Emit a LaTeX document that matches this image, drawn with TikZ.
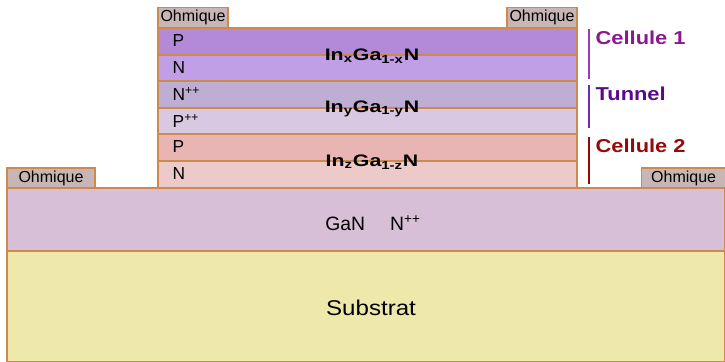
\documentclass[tikz,border=0pt]{standalone}
\usepackage{fontspec}
\setmainfont{Liberation Sans}
\usepackage{tikz}
\definecolor{contour}{HTML}{CD8A4C}
\definecolor{ohm}{HTML}{C8B6B6}
\definecolor{coucheA}{HTML}{B38AD8}
\definecolor{coucheB}{HTML}{C09FE6}
\definecolor{coucheC}{HTML}{BEAED3}
\definecolor{coucheD}{HTML}{D8C8E1}
\definecolor{coucheE}{HTML}{E8B5B4}
\definecolor{coucheF}{HTML}{ECCAC9}
\definecolor{gan}{HTML}{D8BFD8}
\definecolor{substrat}{HTML}{EEE8AA}
\definecolor{celluleun}{HTML}{8E168F}
\definecolor{barreun}{HTML}{9A3CB8}
\definecolor{tunnel}{HTML}{5A0A8C}
\definecolor{barretunnel}{HTML}{6A2CB4}
\definecolor{celluledeux}{HTML}{980808}
\newcommand{\etire}[2]{\scalebox{#1}[1]{#2}}
\newcommand{\alli}[1]{\etire{1.28}{In\textsubscript{#1}Ga\textsubscript{1-#1}N}}

\begin{document}
\begin{tikzpicture}[x=0.75pt,y=-0.75pt,
  couche/.style={draw=contour,line width=1pt},
  ohmbox/.style={draw=contour,fill=ohm,line width=1pt,inner sep=0pt,minimum height=15pt,font=\fontsize{12}{13}\selectfont},
  dopage/.style={anchor=west,font=\fontsize{13}{14}\selectfont},
  alliage/.style={font=\bfseries\fontsize{12.5}{14}\selectfont},
  cellule/.style={anchor=west,font=\bfseries\fontsize{14}{15}\selectfont}]
\useasboundingbox (0,0) rectangle (725,361);

% substrat et GaN
\filldraw[couche,fill=substrat] (7,251) rectangle (725,362);
\filldraw[couche,fill=gan] (7,188) rectangle (725,251);
\node (substrat) at (371,308) {\fontsize{16}{17}\selectfont\etire{1.13}{Substrat}};
\node (gan) at (373,223) {\fontsize{14.5}{16}\selectfont GaN\hspace{1.3em}N\textsuperscript{++}};

% empilement
\filldraw[couche,fill=coucheA] (158,28) rectangle (577,55);
\filldraw[couche,fill=coucheB] (158,55) rectangle (577,81);
\filldraw[couche,fill=coucheC] (158,81) rectangle (577,108);
\filldraw[couche,fill=coucheD] (158,108) rectangle (577,134);
\filldraw[couche,fill=coucheE] (158,134) rectangle (577,161);
\filldraw[couche,fill=coucheF] (158,161) rectangle (577,188);

\node[dopage] (p1) at (168,41) {P};
\node[dopage] (n1) at (168,68) {N};
\node[dopage] (npp) at (168,94) {N\textsuperscript{++}};
\node[dopage] (ppp) at (168,121) {P\textsuperscript{++}};
\node[dopage] (p2) at (168,147) {P};
\node[dopage] (n2) at (168,174) {N};

\node[alliage] (inx) at (372,56) {\alli{x}};
\node[alliage] (iny) at (372,109) {\alli{y}};
\node[alliage] (inz) at (372,162) {\alli{z}};

% contacts
\node[ohmbox,minimum width=52.5pt] (ohm1) at (193,17.5) {Ohmique};
\node[ohmbox,minimum width=52.5pt] (ohm2) at (542,17.5) {Ohmique};
\node[ohmbox,minimum width=66pt] (ohm3) at (51,178) {Ohmique};
\node[ohmbox,minimum width=63pt,anchor=west] (ohm4) at (641,178) {Ohmique};

% cellules
\draw[barreun,line width=1.5pt] (589,29) -- (589,79);
\draw[barretunnel,line width=1.5pt] (589,85) -- (589,128);
\draw[celluledeux,line width=1.5pt] (589,137) -- (589,184);
\node[cellule,text=celluleun] (c1) at (591,38) {\etire{1.17}{Cellule 1}};
\node[cellule,text=tunnel] (tn) at (591,94) {\etire{1.17}{Tunnel}};
\node[cellule,text=celluledeux] (c2) at (591,146) {\etire{1.17}{Cellule 2}};
\end{tikzpicture}
\end{document}
